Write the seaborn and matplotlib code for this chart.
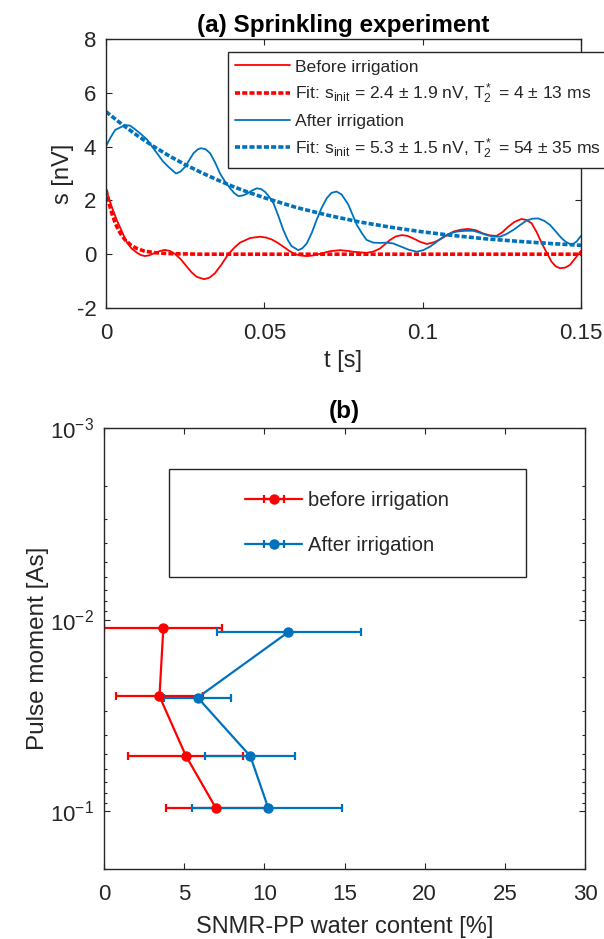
import numpy as np
import pandas as pd
import matplotlib
matplotlib.use("Agg")
import matplotlib.pyplot as plt
import seaborn as sns
from matplotlib.patches import Rectangle
from matplotlib.lines import Line2D
from matplotlib.legend_handler import HandlerTuple

# ---------------- Panel (a): sprinkling experiment ----------------
t_before = [0.0, 0.0017, 0.0034, 0.005, 0.0065, 0.008, 0.0097, 0.011, 0.0123, 0.0137,
            0.015, 0.0168, 0.0186, 0.0202, 0.0218, 0.0237, 0.0255, 0.027, 0.0286, 0.031,
            0.0327, 0.0344, 0.0365, 0.0386, 0.0405, 0.0423, 0.0455, 0.0486, 0.0505, 0.0523,
            0.054, 0.056, 0.0578, 0.0597, 0.0615, 0.0634, 0.0652, 0.0671, 0.0707, 0.0739,
            0.0765, 0.0781, 0.0823, 0.0845, 0.0865, 0.0897, 0.0915, 0.0934, 0.0952, 0.097,
            0.0992, 0.1013, 0.1035, 0.1055, 0.1076, 0.1097, 0.112, 0.1144, 0.1168, 0.1191,
            0.1212, 0.1233, 0.1252, 0.127, 0.129, 0.1312, 0.1328, 0.1344, 0.136, 0.1376,
            0.1392, 0.1407, 0.142, 0.1434, 0.145, 0.1465, 0.1486, 0.15]
s_before = [2.40, 1.80, 1.27, 0.85, 0.46, 0.22, 0.06, -0.03, -0.07, -0.04,
            0.03, 0.11, 0.16, 0.12, 0.01, -0.20, -0.46, -0.67, -0.84, -0.93,
            -0.87, -0.71, -0.38, 0.0, 0.24, 0.43, 0.60, 0.65, 0.62, 0.55,
            0.44, 0.28, 0.13, 0.0, -0.05, -0.07, -0.05, 0.0, 0.11, 0.15,
            0.12, 0.09, 0.05, 0.10, 0.21, 0.53, 0.66, 0.71, 0.68, 0.59,
            0.46, 0.38, 0.44, 0.55, 0.70, 0.84, 0.91, 0.94, 0.89, 0.77,
            0.70, 0.68, 0.82, 1.02, 1.20, 1.31, 1.27, 1.15, 0.82, 0.41,
            0.05, -0.28, -0.45, -0.52, -0.50, -0.40, -0.09, 0.13]

t_after = [0.0, 0.0015, 0.0029, 0.006, 0.0076, 0.0092, 0.011, 0.0129, 0.0147, 0.0165,
           0.018, 0.0197, 0.0221, 0.0235, 0.025, 0.0263, 0.0276, 0.029, 0.03, 0.0315,
           0.0329, 0.0345, 0.036, 0.0376, 0.0392, 0.0405, 0.0418, 0.0431, 0.0444, 0.046,
           0.0476, 0.049, 0.0502, 0.0515, 0.0529, 0.0545, 0.056, 0.0573, 0.0586, 0.0607,
           0.062, 0.0634, 0.065, 0.0665, 0.068, 0.0697, 0.0712, 0.0728, 0.0744, 0.0765,
           0.0792, 0.0808, 0.0823, 0.0844, 0.0865, 0.0886, 0.0907, 0.0928, 0.0955, 0.0981,
           0.1002, 0.1023, 0.1044, 0.1065, 0.1086, 0.1107, 0.1133, 0.116, 0.118, 0.1202,
           0.1223, 0.1244, 0.1265, 0.1286, 0.1307, 0.1328, 0.1346, 0.1365, 0.1384, 0.1402,
           0.142, 0.1439, 0.1452, 0.1465, 0.1476, 0.1486, 0.15]
s_after = [4.02, 4.35, 4.62, 4.80, 4.78, 4.64, 4.47, 4.27, 3.98, 3.69,
           3.45, 3.25, 3.00, 3.07, 3.25, 3.50, 3.75, 3.90, 3.94, 3.90,
           3.75, 3.40, 3.00, 2.70, 2.45, 2.27, 2.16, 2.18, 2.24, 2.36,
           2.45, 2.42, 2.32, 2.14, 1.89, 1.40, 0.90, 0.55, 0.30, 0.15,
           0.22, 0.40, 0.80, 1.27, 1.70, 2.08, 2.28, 2.33, 2.22, 1.85,
           1.09, 0.78, 0.53, 0.43, 0.42, 0.43, 0.40, 0.30, 0.17, 0.09,
           0.15, 0.28, 0.46, 0.65, 0.77, 0.84, 0.87, 0.87, 0.80, 0.71,
           0.66, 0.65, 0.75, 0.90, 1.08, 1.25, 1.32, 1.33, 1.24, 1.09,
           0.85, 0.59, 0.46, 0.38, 0.39, 0.47, 0.68]

t_fit_before = [0.0, 0.001, 0.002, 0.003, 0.004, 0.005, 0.006, 0.008, 0.010, 0.012,
                0.015, 0.020, 0.030, 0.150]
s_fit_before = [2.40, 1.87, 1.46, 1.13, 0.88, 0.69, 0.54, 0.32, 0.20, 0.12,
                0.06, 0.02, 0.0, 0.0]

t_fit_after = [0.0, 0.005, 0.01, 0.015, 0.02, 0.025, 0.03, 0.035, 0.04, 0.045,
               0.05, 0.06, 0.07, 0.08, 0.09, 0.10, 0.11, 0.12, 0.13, 0.14, 0.15]
s_fit_after = [5.30, 4.83, 4.40, 4.01, 3.65, 3.33, 3.04, 2.77, 2.52, 2.30,
               2.10, 1.74, 1.45, 1.20, 1.00, 0.83, 0.69, 0.57, 0.48, 0.40, 0.33]

labels_a = ["Before irrigation",
            r"Fit: s$_{init}$ = 2.4 $\pm$ 1.9 nV, T$_2^*$ = 4 $\pm$ 13 ms",
            "After irrigation",
            r"Fit: s$_{init}$ = 5.3 $\pm$ 1.5 nV, T$_2^*$ = 54 $\pm$ 35 ms"]
xticks_a = [0, 0.05, 0.1, 0.15]
xticklabels_a = ["0", "0.05", "0.1", "0.15"]
yticks_a = [-2, 0, 2, 4, 6, 8]

# ---------------- Panel (b): pulse moment profiles ----------------
pulse_before = [0.0111, 0.0251, 0.0512, 0.0959]
water_before = [3.70, 3.46, 5.10, 6.97]
lo_before = [0.00, 0.75, 1.47, 3.85]
hi_before = [7.36, 6.20, 8.65, 10.10]

pulse_after = [0.0116, 0.0255, 0.0516, 0.0959]
water_after = [11.50, 5.84, 9.13, 10.24]
lo_after = [7.07, 3.75, 6.32, 5.46]
hi_after = [16.06, 7.93, 11.92, 14.83]

labels_b = ["before irrigation", "After irrigation"]
xticks_b = [0, 5, 10, 15, 20, 25, 30]

RED = "#FF0000"
BLUE = "#0072BD"
AX_COL = "#262626"

sns.set_style("white")
plt.rcParams["font.family"] = ["Liberation Sans", "DejaVu Sans"]
plt.rcParams["mathtext.fontset"] = "custom"
plt.rcParams["mathtext.rm"] = "Liberation Sans"
plt.rcParams["mathtext.it"] = "Liberation Sans:italic"
plt.rcParams["mathtext.default"] = "regular"
plt.rcParams["axes.unicode_minus"] = False
plt.rcParams["xtick.bottom"] = True
plt.rcParams["xtick.top"] = True
plt.rcParams["ytick.left"] = True
plt.rcParams["ytick.right"] = True
plt.rcParams["xtick.direction"] = "in"
plt.rcParams["ytick.direction"] = "in"
plt.rcParams["xtick.major.size"] = 4.5
plt.rcParams["ytick.major.size"] = 4.5
plt.rcParams["xtick.minor.size"] = 2.5
plt.rcParams["ytick.minor.size"] = 2.5

fig = plt.figure(figsize=(6.04, 9.39), dpi=100)
ax1 = fig.add_axes([106 / 604, 1 - 308 / 939, 475 / 604, 269 / 939])
ax2 = fig.add_axes([104 / 604, 1 - 869 / 939, 481 / 604, 441 / 939])

def style_axes(ax):
    for sp in ax.spines.values():
        sp.set_color(AX_COL)
        sp.set_linewidth(1.0)
        sp.set_visible(True)
    ax.tick_params(which="both", direction="in", top=True, right=True,
                   bottom=True, left=True,
                   colors=AX_COL, labelcolor=AX_COL, labelsize=16, width=0.8)
    ax.tick_params(axis="x", which="both", pad=11)
    ax.tick_params(axis="y", which="both", pad=7)
    ax.tick_params(which="major", length=4.5)
    ax.tick_params(which="minor", length=2.5)

# ---- Panel (a) ----
dot = (0, (1.4, 0.6))
df_b = pd.DataFrame({"t": t_before, "s": s_before})
df_a = pd.DataFrame({"t": t_after, "s": s_after})
df_fb = pd.DataFrame({"t": t_fit_before, "s": s_fit_before})
df_fa = pd.DataFrame({"t": t_fit_after, "s": s_fit_after})

sns.lineplot(data=df_b, x="t", y="s", ax=ax1, color=RED, lw=1.3, sort=False,
             estimator=None, label=labels_a[0])
sns.lineplot(data=df_fb, x="t", y="s", ax=ax1, color=RED, lw=2.6, sort=False,
             estimator=None, linestyle=dot, label=labels_a[1])
sns.lineplot(data=df_a, x="t", y="s", ax=ax1, color=BLUE, lw=1.3, sort=False,
             estimator=None, label=labels_a[2])
sns.lineplot(data=df_fa, x="t", y="s", ax=ax1, color=BLUE, lw=2.6, sort=False,
             estimator=None, linestyle=dot, label=labels_a[3])
for ln in ax1.get_lines():
    ln.set_dash_capstyle("butt")

ax1.set_xlim(0, 0.15)
ax1.set_ylim(-2, 8)
ax1.set_xticks(xticks_a)
ax1.set_xticklabels(xticklabels_a)
ax1.set_yticks(yticks_a)
ax1.set_yticklabels([str(v) for v in yticks_a])
style_axes(ax1)
ax1.set_xlabel("t [s]", fontsize=17, color=AX_COL, labelpad=4)
ax1.set_ylabel("s [nV]", fontsize=17, color=AX_COL, labelpad=2)
ax1.set_title("(a) Sprinkling experiment", fontsize=17.5, fontweight="bold",
              color="black", pad=5)

h1 = ax1.get_lines()[:4]
leg1 = ax1.legend(h1, labels_a, loc="upper left", bbox_to_anchor=(0.257, 0.952),
                  borderaxespad=0, fontsize=12.6, frameon=True, fancybox=False,
                  edgecolor=AX_COL, framealpha=1, borderpad=0.42, labelspacing=0.42,
                  handlelength=3.1, handletextpad=0.3)
leg1.get_frame().set_linewidth(1.0)
leg1.set_clip_on(False)

# ---- Panel (b) ----
ax2.set_yscale("log")
eb_a = ax2.errorbar(water_after, pulse_after,
                    xerr=[np.subtract(water_after, lo_after), np.subtract(hi_after, water_after)],
                    fmt="none", ecolor=BLUE, elinewidth=1.6, capsize=2.8, capthick=1.6, zorder=2)
eb_b = ax2.errorbar(water_before, pulse_before,
                    xerr=[np.subtract(water_before, lo_before), np.subtract(hi_before, water_before)],
                    fmt="none", ecolor=RED, elinewidth=1.6, capsize=2.8, capthick=1.6, zorder=1.5)
df_pa = pd.DataFrame({"w": water_after, "p": pulse_after})
df_pb = pd.DataFrame({"w": water_before, "p": pulse_before})
sns.lineplot(data=df_pa, x="w", y="p", ax=ax2, color=BLUE, lw=1.6, sort=False,
             estimator=None, marker="o", markersize=7.5, markeredgecolor=BLUE,
             markeredgewidth=0, zorder=3)
sns.lineplot(data=df_pb, x="w", y="p", ax=ax2, color=RED, lw=1.6, sort=False,
             estimator=None, marker="o", markersize=7.5, markeredgecolor=RED,
             markeredgewidth=0, zorder=4)

ax2.set_xlim(0, 30)
ax2.set_ylim(0.2, 1e-3)
ax2.set_xticks(xticks_b)
ax2.set_xticklabels([str(v) for v in xticks_b])
style_axes(ax2)
ax2.yaxis.set_tick_params(which="minor", left=True, right=True, length=2.5)
ax2.set_xlabel("SNMR-PP water content [%]", fontsize=17, color=AX_COL, labelpad=8)
ax2.set_ylabel("Pulse moment [As]", fontsize=17.5, color=AX_COL, labelpad=1)
ax2.set_title("(b)", fontsize=17.5, fontweight="bold", color="black", pad=7)

proxy_b = Line2D([], [], color=RED, lw=1.6, marker="o", markersize=7.5, markeredgewidth=0)
proxy_a = Line2D([], [], color=BLUE, lw=1.6, marker="o", markersize=7.5, markeredgewidth=0)
leg2 = ax2.legend([(eb_b, proxy_b), (eb_a, proxy_a)], labels_b,
                  handler_map={tuple: HandlerTuple(ndivide=1)},
                  loc="center", bbox_to_anchor=(0.506, 0.785), frameon=False,
                  fontsize=14.6, labelspacing=1.3, handlelength=2.8, handletextpad=0.3)
ax2.add_patch(Rectangle((0.135, 0.662), 0.742, 0.245, transform=ax2.transAxes,
                        facecolor="none", edgecolor=AX_COL, lw=1.0, zorder=5))

fig.savefig("out.png", dpi=100)
